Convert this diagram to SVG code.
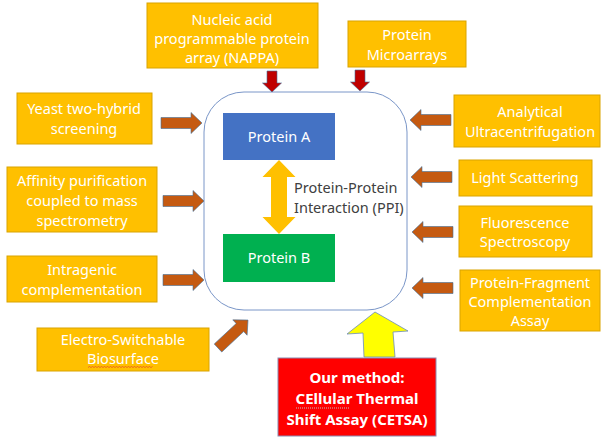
<svg xmlns="http://www.w3.org/2000/svg" xmlns:xlink="http://www.w3.org/1999/xlink" width="601" height="438" viewBox="0 0 601 438">
<style>
  .box { fill: #FFC000; stroke: #D9A400; stroke-width: 1; }
  .t { font-family: "Noto Sans", "Liberation Sans", Arial, sans-serif; font-size: 14.5px; fill: #FFFFFF; text-anchor: middle; }
  .dark { fill: #404040; text-anchor: start; }
  .bold { font-weight: bold; font-size: 15px; }
  .barrow { fill: #C55A11; stroke: #41719C; stroke-width: 0.6; }
  .rarrow { fill: #C00000; stroke: #41719C; stroke-width: 0.6; }
</style>
<defs>
  <path id="arrowR" d="M0,-5.5 H30 V-10.5 L41,0 L30,10.5 V5.5 H0 Z"/>
  <path id="arrowD" d="M-5,0 V12 H-9.5 L0,21 L9.5,12 H5 V0 Z"/>
</defs>
<rect width="601" height="438" fill="#FFFFFF"/>

<g id="ppi-frame">
  <rect x="204" y="92" width="203" height="218" rx="40" ry="40" fill="#FFFFFF" stroke="#7A96C8" stroke-width="1"/>
</g>

<g id="protein-a">
  <rect x="223" y="113" width="112" height="47" fill="#4472C4"/>
  <text class="t" x="279" y="142">Protein A</text>
</g>
<g id="protein-b">
  <rect x="223" y="234" width="112" height="48" fill="#00B050"/>
  <text class="t" x="279" y="263">Protein B</text>
</g>
<g id="ppi-label">
  <text class="t dark" x="294" y="193">Protein-Protein</text>
  <text class="t dark" x="294" y="213">Interaction (PPI)</text>
</g>

<g id="nappa">
  <rect class="box" x="147" y="3" width="171" height="65"/>
  <text class="t" x="232" y="25">Nucleic acid</text>
  <text class="t" x="232" y="44">programmable protein</text>
  <text class="t" x="232" y="63">array (NAPPA)</text>
</g>
<g id="protein-microarrays">
  <rect class="box" x="348" y="21" width="118" height="46"/>
  <text class="t" x="407" y="40">Protein</text>
  <text class="t" x="407" y="60">Microarrays</text>
</g>
<g id="yeast">
  <rect class="box" x="17" y="93" width="135" height="51"/>
  <text class="t" x="84" y="114">Yeast two-hybrid</text>
  <text class="t" x="84" y="134">screening</text>
</g>
<g id="affinity">
  <rect class="box" x="7" y="167" width="150" height="65"/>
  <text class="t" x="82" y="186">Affinity purification</text>
  <text class="t" x="82" y="206">coupled to mass</text>
  <text class="t" x="82" y="226">spectrometry</text>
</g>
<g id="intragenic">
  <rect class="box" x="7" y="256" width="150" height="46"/>
  <text class="t" x="82" y="275">Intragenic</text>
  <text class="t" x="82" y="295">complementation</text>
</g>
<g id="electro">
  <rect class="box" x="37" y="328" width="172" height="43"/>
  <text class="t" x="123" y="345">Electro-Switchable</text>
  <text class="t" x="123" y="364">Biosurface</text>
  <path d="M88,367.5 l1.5,-1 l1.5,1 l1.5,-1 l1.5,1 l1.5,-1 l1.5,1 l1.5,-1 l1.5,1 l1.5,-1 l1.5,1 l1.5,-1 l1.5,1 l1.5,-1 l1.5,1 l1.5,-1 l1.5,1 l1.5,-1 l1.5,1 l1.5,-1 l1.5,1 l1.5,-1 l1.5,1 l1.5,-1 l1.5,1 l1.5,-1 l1.5,1 l1.5,-1 l1.5,1 l1.5,-1 l1.5,1 l1.5,-1 l1.5,1 l1.5,-1 l1.5,1 l1.5,-1 l1.5,1 l1.5,-1 l1.5,1 l1.5,-1 l1.5,1 l1.5,-1 l1.5,1 l1.5,-1" fill="none" stroke="#E03030" stroke-width="0.6"/>
</g>
<g id="analytical">
  <rect class="box" x="454" y="95" width="146" height="52"/>
  <text class="t" x="530" y="117">Analytical</text>
  <text class="t" x="530" y="137">Ultracentrifugation</text>
</g>
<g id="light">
  <rect class="box" x="459" y="160" width="133" height="36"/>
  <text class="t" x="525" y="183">Light Scattering</text>
</g>
<g id="fluorescence">
  <rect class="box" x="459" y="206" width="133" height="51"/>
  <text class="t" x="525" y="228">Fluorescence</text>
  <text class="t" x="525" y="247">Spectroscopy</text>
</g>
<g id="fragment">
  <rect class="box" x="460" y="270" width="140" height="61"/>
  <text class="t" x="530" y="288">Protein-Fragment</text>
  <text class="t" x="530" y="307">Complementation</text>
  <text class="t" x="530" y="326">Assay</text>
</g>
<g id="cetsa">
  <rect x="278" y="358" width="158" height="78" fill="#FF0000" stroke="#8A8AB0" stroke-width="1"/>
  <text class="t bold" x="357" y="383">Our method:</text>
  <text class="t bold" x="357" y="404">CEllular Thermal</text>
  <text class="t bold" x="357" y="425">Shift Assay (CETSA)</text>
  <line x1="296" y1="408" x2="350" y2="408" stroke="#C0C0C0" stroke-width="1" stroke-dasharray="1,1"/>
</g>

<g id="connectors">
  <path d="M279,160 L295.5,177 H287 V217 H295.5 L279,234 L262.5,217 H271 V177 H262.5 Z" fill="#FFC000"/>
  <use href="#arrowD" class="rarrow" transform="translate(272,71)"/>
  <use href="#arrowD" class="rarrow" transform="translate(360,70)"/>
  <use href="#arrowR" class="barrow" transform="translate(161,123)"/>
  <use href="#arrowR" class="barrow" transform="translate(163,201)"/>
  <use href="#arrowR" class="barrow" transform="translate(163,280)"/>
  <use href="#arrowR" class="barrow" transform="translate(218,348) rotate(-43)"/>
  <use href="#arrowR" class="barrow" transform="translate(451,120) scale(-1,1)"/>
  <use href="#arrowR" class="barrow" transform="translate(452,177) scale(-1,1)"/>
  <use href="#arrowR" class="barrow" transform="translate(453,232) scale(-1,1)"/>
  <use href="#arrowR" class="barrow" transform="translate(453,288) scale(-1,1)"/>
  <path d="M375,312 L408,331 L393,332 L395,357 L364,357 L363,333 L347,334 Z" fill="#FFFF00" stroke="#6A8AC0" stroke-width="0.8"/>
</g>
</svg>
